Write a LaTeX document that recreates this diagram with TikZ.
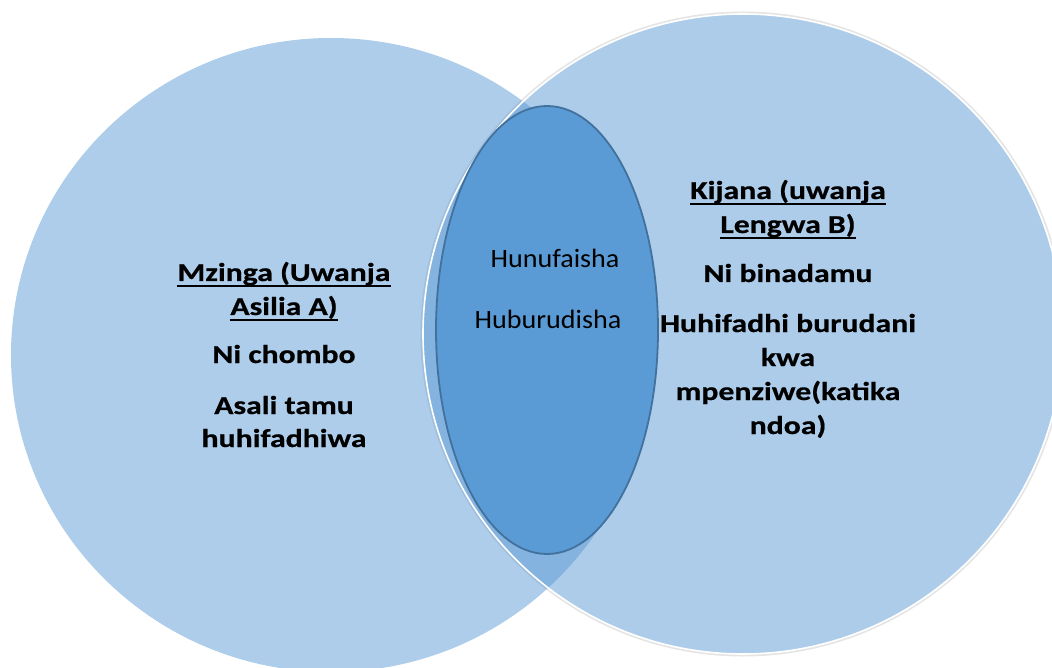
\documentclass[tikz,border=0pt]{standalone}
\usepackage{fontspec}
\newfontfamily\sidefont{Carlito}[FakeStretch=1.23, BoldFeatures={FakeBold=0.6}]
\newfontfamily\midfont{Carlito}[FakeStretch=1.06]
\definecolor{setfill}{HTML}{5B9BD5}
\definecolor{lensedge}{HTML}{41719C}
\tikzset{
  setcircle/.style={fill=setfill, fill opacity=0.5, draw=none},
  sidetext/.style={anchor=base, inner sep=0pt, text=black,
    font=\sidefont\bfseries\fontsize{25.8}{34}\selectfont},
  midtext/.style={anchor=base, inner sep=0pt, text=black,
    font=\midfont\fontsize{26.5}{34}\selectfont},
  headrule/.style={draw=black, line width=1.8pt},
}
\begin{document}
\begin{tikzpicture}[x=1pt, y=-1pt]
  \useasboundingbox (0,0) rectangle (1052,668);
  \clip (0,0) rectangle (1052,668);

  % the two sets
  \draw[black!10, line width=3pt] (743,334) circle [radius=321];
  \fill[white] (743,334) circle [radius=320];
  \fill[setcircle] (331,355) ellipse [x radius=320, y radius=317];
  \path[setcircle] (743,334) circle [radius=320];
  \draw[white, line width=1.6pt] (743,334) circle [radius=320];

  % shared features
  \draw[fill=setfill, draw=lensedge, line width=1.8pt]
    (547,330) ellipse [x radius=111, y radius=224];

  % source domain A
  \node[sidetext] (a1) at (284,281) {Mzinga (Uwanja};
  \node[sidetext] (a2) at (284,315) {Asilia A)};
  \node[sidetext] (a3) at (284,363) {Ni chombo};
  \node[sidetext] (a4) at (284,414) {Asali tamu};
  \node[sidetext] (a5) at (284,447) {huhifadhiwa};

  % target domain B
  \node[sidetext] (b1) at (788,199) {Kijana (uwanja};
  \node[sidetext] (b2) at (788,233) {Lengwa B)};
  \node[sidetext] (b3) at (788,282) {Ni binadamu};
  \node[sidetext] (b4) at (788,332) {Huhifadhi burudani};
  \node[sidetext] (b5) at (788,366) {kwa};
  \node[sidetext] (b6) at (788,400) {mpenziwe(katika};
  \node[sidetext] (b7) at (788,434) {ndoa)};

  % headings are underlined
  \foreach \h in {a1,a2,b1,b2}
    \draw[headrule] ([yshift=-5pt]\h.base west) -- ([yshift=-5pt]\h.base east);

  % common ground
  \node[midtext] (c1) at (555,268) {Hunufaisha};
  \node[midtext] (c2) at (548,328) {Huburudisha};
\end{tikzpicture}
\end{document}
